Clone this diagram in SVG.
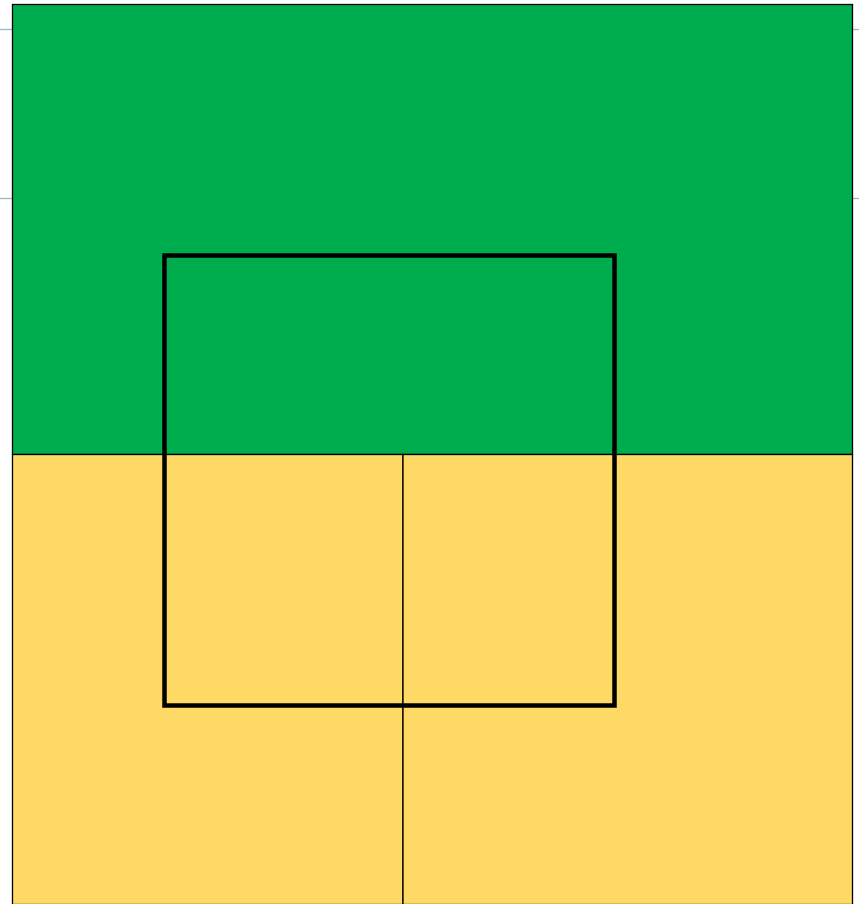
<svg xmlns="http://www.w3.org/2000/svg" width="859" height="904" viewBox="0 0 859 904">
<style>
.cell{stroke:#000;stroke-width:1.3}
.tick{stroke:#9fb3c6;stroke-width:1.3}
</style>
<rect width="859" height="904" fill="#fff"/>
<g id="ticks">
<line class="tick" x1="0" y1="29.5" x2="12" y2="29.5"/>
<line class="tick" x1="0" y1="198.5" x2="12" y2="198.5"/>
<line class="tick" x1="852" y1="29.5" x2="859" y2="29.5"/>
<line class="tick" x1="852" y1="198.5" x2="859" y2="198.5"/>
</g>
<g id="top"><rect class="cell" x="12.5" y="4.5" width="840" height="450" fill="#00ad4e"/></g>
<g id="bottom-left"><rect class="cell" x="12.5" y="454.5" width="390.5" height="450" fill="#ffd966"/></g>
<g id="bottom-right"><rect class="cell" x="403" y="454.5" width="449.5" height="450" fill="#ffd966"/></g>
<g id="frame"><rect x="164.5" y="255.5" width="450" height="450" fill="none" stroke="#000" stroke-width="4.5"/></g>
</svg>
